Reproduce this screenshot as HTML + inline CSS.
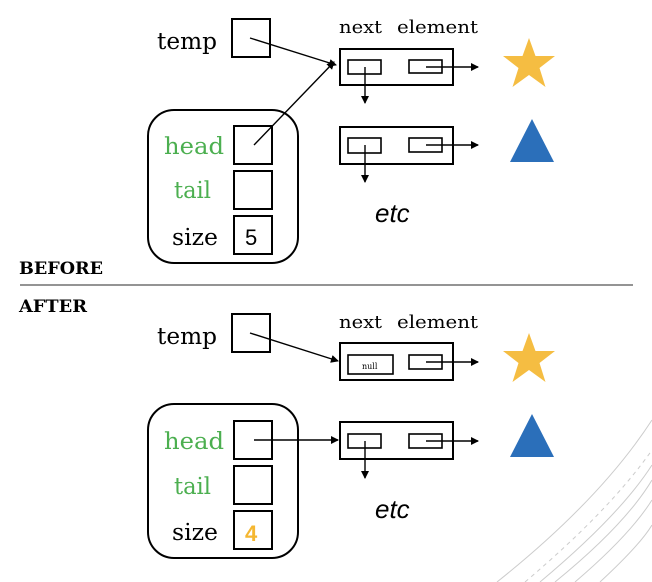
<!DOCTYPE html>
<html><head><meta charset="utf-8"><style>
html,body{margin:0;padding:0;background:#fff;width:652px;height:582px;overflow:hidden}
svg{display:block}
.s{font-family:"DejaVu Serif","Liberation Serif",serif}
.lbl{font-size:23px}
.small{font-size:18px}
.g{fill:#4caf50}
</style></head><body>
<svg width="652" height="582" viewBox="0 0 652 582" xmlns="http://www.w3.org/2000/svg">
<defs>
<marker id="a" markerWidth="8" markerHeight="8" refX="7" refY="4" orient="auto" markerUnits="userSpaceOnUse">
<path d="M0,0 L8,4 L0,8 z" fill="#000"/></marker>
</defs>
<g fill="none" stroke="#ccc" stroke-width="1">
<path d="M497,582 Q600,500 652,420"/>
<path d="M525,582 Q610,510 652,450" stroke-dasharray="4,4"/>
<path d="M540,582 Q620,515 652,465"/>
<path d="M555,582 Q625,525 652,480"/>
<path d="M575,582 Q630,535 652,500"/>
<path d="M600,582 Q640,545 652,525"/>
</g>
<g fill="none" stroke="#000" stroke-width="2">
<rect x="232" y="19" width="38" height="38"/>
<rect x="340" y="49" width="113" height="36"/>
<rect x="348" y="60" width="33" height="14" stroke-width="1.6"/>
<rect x="409" y="60" width="33" height="13" stroke-width="1.6"/>
<rect x="340" y="127" width="113" height="37"/>
<rect x="348" y="138" width="33" height="15" stroke-width="1.6"/>
<rect x="409" y="138" width="33" height="14" stroke-width="1.6"/>
<rect x="148" y="110" width="150" height="153" rx="26"/>
<rect x="234" y="126" width="38" height="38"/>
<rect x="234" y="171" width="38" height="38"/>
<rect x="234" y="216" width="38" height="38"/>
<rect x="232" y="314" width="38" height="38"/>
<rect x="340" y="343" width="113" height="37"/>
<rect x="348" y="355" width="45" height="19" stroke-width="1.6"/>
<rect x="409" y="355" width="33" height="14" stroke-width="1.6"/>
<rect x="340" y="422" width="113" height="37"/>
<rect x="348" y="434" width="33" height="14" stroke-width="1.6"/>
<rect x="409" y="434" width="33" height="14" stroke-width="1.6"/>
<rect x="148" y="404" width="150" height="154" rx="26"/>
<rect x="234" y="421" width="38" height="38"/>
<rect x="234" y="466" width="38" height="38"/>
<rect x="234" y="511" width="38" height="38"/>
</g>
<g stroke="#000" stroke-width="1.4" fill="none">
<line x1="250" y1="38" x2="336" y2="65" marker-end="url(#a)"/>
<line x1="254" y1="145" x2="334" y2="62" marker-end="url(#a)"/>
<line x1="426" y1="67" x2="478" y2="67" marker-end="url(#a)"/>
<line x1="365" y1="67" x2="365" y2="103" marker-end="url(#a)"/>
<line x1="426" y1="145" x2="478" y2="145" marker-end="url(#a)"/>
<line x1="365" y1="145" x2="365" y2="182" marker-end="url(#a)"/>
<line x1="250" y1="333" x2="338" y2="361" marker-end="url(#a)"/>
<line x1="426" y1="362" x2="478" y2="362" marker-end="url(#a)"/>
<line x1="254" y1="440" x2="338" y2="440" marker-end="url(#a)"/>
<line x1="426" y1="441" x2="478" y2="441" marker-end="url(#a)"/>
<line x1="365" y1="441" x2="365" y2="478" marker-end="url(#a)"/>
</g>
<line x1="20" y1="285" x2="633" y2="285" stroke="#555" stroke-width="1.3"/>
<polygon points="529,38 535.5,56 555,56 539.5,68 545.5,87 529,75 512.5,87 518.5,68 503,56 522.5,56" fill="#f5bd42"/>
<polygon points="532,119 554,162 510,162" fill="#2b6fba"/>
<polygon points="529,333 535.5,351 555,351 539.5,363 545.5,382 529,370 512.5,382 518.5,363 503,351 522.5,351" fill="#f5bd42"/>
<polygon points="532,414 554,457 510,457" fill="#2b6fba"/>
<g class="s" lengthAdjust="spacingAndGlyphs">
<text x="157" y="49" class="lbl" textLength="60" lengthAdjust="spacingAndGlyphs">temp</text>
<text x="339" y="33" class="small" textLength="43" lengthAdjust="spacingAndGlyphs">next</text>
<text x="397" y="33" class="small" textLength="81" lengthAdjust="spacingAndGlyphs">element</text>
<text x="164" y="154" class="lbl g" textLength="60" lengthAdjust="spacingAndGlyphs">head</text>
<text x="174" y="198" class="lbl g" textLength="37" lengthAdjust="spacingAndGlyphs">tail</text>
<text x="172" y="245" class="lbl" textLength="46" lengthAdjust="spacingAndGlyphs">size</text>
<text x="157" y="344" class="lbl" textLength="60" lengthAdjust="spacingAndGlyphs">temp</text>
<text x="339" y="328" class="small" textLength="43" lengthAdjust="spacingAndGlyphs">next</text>
<text x="397" y="328" class="small" textLength="81" lengthAdjust="spacingAndGlyphs">element</text>
<text x="362" y="369" font-size="8">null</text>
<text x="164" y="449" class="lbl g" textLength="60" lengthAdjust="spacingAndGlyphs">head</text>
<text x="174" y="494" class="lbl g" textLength="37" lengthAdjust="spacingAndGlyphs">tail</text>
<text x="172" y="540" class="lbl" textLength="46" lengthAdjust="spacingAndGlyphs">size</text>
<text x="19" y="274" font-size="17" font-weight="bold" textLength="84" lengthAdjust="spacingAndGlyphs">BEFORE</text>
<text x="19" y="312" font-size="17" font-weight="bold" textLength="68" lengthAdjust="spacingAndGlyphs">AFTER</text>
</g>
<g font-family="Liberation Sans, sans-serif">
<text x="245" y="245" font-size="22">5</text>
<text x="245" y="541" font-size="22" font-weight="bold" fill="#f5b731">4</text>
<text x="375" y="222" font-size="26" font-style="italic">etc</text>
<text x="375" y="518" font-size="26" font-style="italic">etc</text>
</g>
</svg>
</body></html>
